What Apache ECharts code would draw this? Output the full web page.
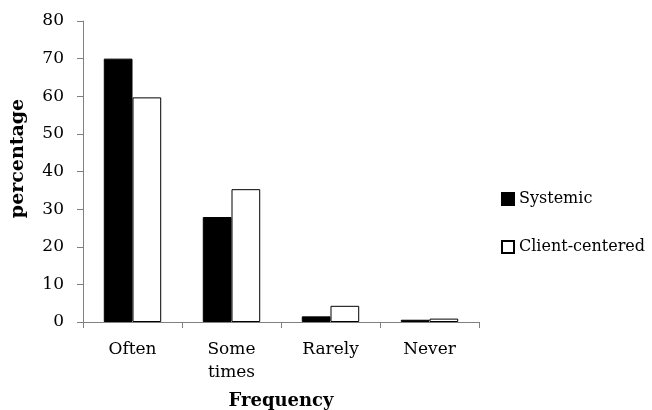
<!DOCTYPE html>
<html>
<head>
<meta charset="utf-8">
<script src="https://cdn.jsdelivr.net/npm/echarts@6/dist/echarts.min.js"></script>
<style>html,body{margin:0;padding:0;background:#fff}#c{width:652px;height:410px}</style>
</head>
<body>
<div id="c"></div>
<script>
const categories = ['Often', 'Some\ntimes', 'Rarely', 'Never'];
const systemic = [70, 27.9, 1.5, 0.6];
const clientCentered = [59.7, 35.3, 4.3, 0.9];
const yTicks = [0, 10, 20, 30, 40, 50, 60, 70, 80];

const FONT = 'DejaVu Serif';
const chart = echarts.init(document.getElementById('c'));
chart.setOption({
  animation: false,
  textStyle: { fontFamily: FONT, color: '#000' },
  grid: { left: 83, right: 173, top: 21, bottom: 88, outerBoundsMode: 'none', containLabel: false },
  legend: {
    orient: 'vertical',
    left: 501,
    top: 191,
    padding: 0,
    itemWidth: 12,
    itemHeight: 12,
    itemGap: 32,
    icon: 'rect',
    textStyle: { fontFamily: FONT, fontSize: 16, color: '#000' },
    data: ['Systemic', 'Client-centered']
  },
  xAxis: {
    type: 'category',
    data: categories,
    name: 'Frequency',
    nameLocation: 'middle',
    nameGap: 70,
    nameTextStyle: { fontFamily: FONT, fontSize: 18, fontWeight: 'bold', color: '#000' },
    axisLine: { lineStyle: { color: '#808080', width: 1 } },
    axisTick: { show: true, length: 6, lineStyle: { color: '#808080' } },
    axisLabel: { fontFamily: FONT, fontSize: 17, color: '#000', margin: 16, lineHeight: 23 }
  },
  yAxis: {
    type: 'value',
    min: yTicks[0],
    max: yTicks[yTicks.length - 1],
    interval: 10,
    name: 'percentage',
    nameLocation: 'middle',
    nameGap: 55,
    nameTextStyle: { fontFamily: FONT, fontSize: 19, fontWeight: 'bold', color: '#000', padding: [0, 0, 0, 26] },
    axisLine: { show: true, lineStyle: { color: '#808080', width: 1 } },
    axisTick: { show: true, length: 6, lineStyle: { color: '#808080' } },
    splitLine: { show: false },
    axisLabel: { fontFamily: FONT, fontSize: 17, color: '#000', margin: 19 }
  },
  series: [
    {
      name: 'Systemic',
      type: 'bar',
      data: systemic,
      barWidth: '29%',
      barGap: '0%',
      itemStyle: { color: '#000', borderColor: '#000', borderWidth: 1 }
    },
    {
      name: 'Client-centered',
      type: 'bar',
      data: clientCentered,
      barWidth: '29%',
      barGap: '0%',
      itemStyle: { color: '#fff', borderColor: '#000', borderWidth: 1 }
    }
  ]
});
</script>
</body>
</html>
